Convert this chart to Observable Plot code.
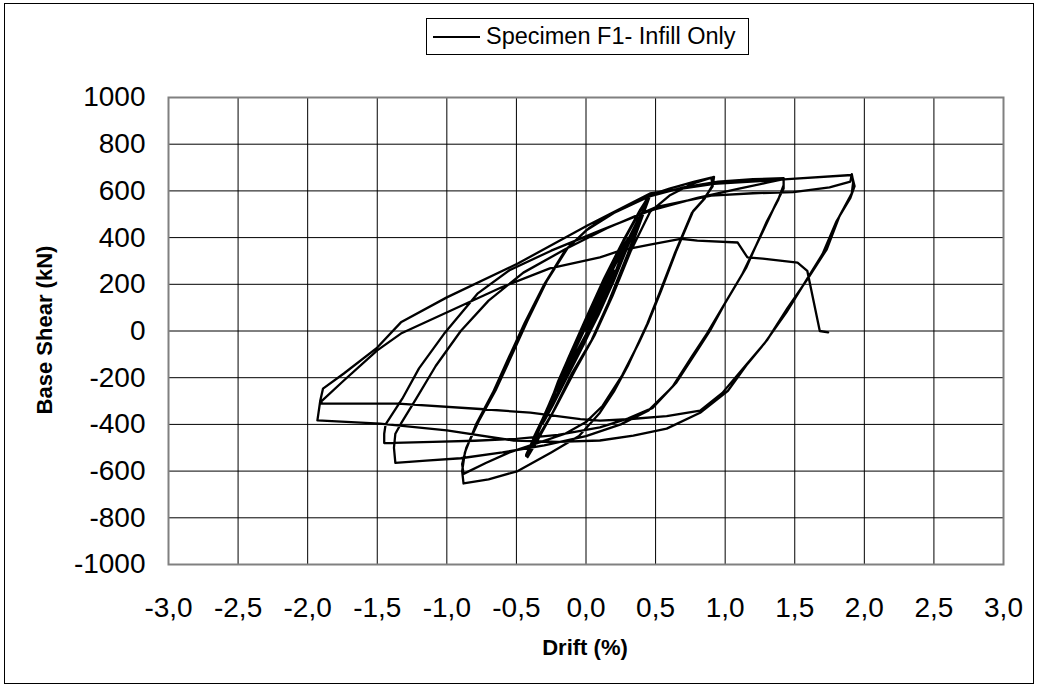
<!DOCTYPE html>
<html><head><meta charset="utf-8">
<script src="https://cdn.jsdelivr.net/npm/d3@7"></script>
<script src="https://cdn.jsdelivr.net/npm/@observablehq/plot@0.6"></script>
<style>
body{margin:0;background:#fff;}
#wrap{position:relative;width:1040px;height:690px;font-family:"Liberation Sans",Arial,sans-serif;color:#000;}
#border{position:absolute;left:4px;top:3px;width:1030px;height:681px;border:1px solid #000;box-sizing:border-box;}
#legend{position:absolute;left:426px;top:18px;width:323px;height:37px;border:1px solid #000;box-sizing:border-box;display:flex;align-items:center;font-size:23.5px;white-space:nowrap;}
#legend .sw{width:47px;height:2px;background:#000;margin-left:6px;margin-right:6px;flex:none;}
#chart{position:absolute;left:0;top:0;}
#chart svg text{font-size:28px;}
.title{position:absolute;font-weight:bold;font-size:22px;white-space:nowrap;}
#xtitle{left:585px;top:648px;transform:translate(-50%,-50%);}
#ytitle{left:45px;top:330px;transform:translate(-50%,-50%) rotate(-90deg);}
</style></head>
<body>
<div id="wrap"><div id="border"></div><div id="chart"></div>
<div id="legend"><span class="sw"></span><span>Specimen F1- Infill Only</span></div>
<div class="title" id="xtitle">Drift (%)</div>
<div class="title" id="ytitle">Base Shear (kN)</div>
</div>
<script>
// Tick values
const xTicks = [-3, -2.5, -2, -1.5, -1, -0.5, 0, 0.5, 1, 1.5, 2, 2.5, 3];
const yTicks = [-1000, -800, -600, -400, -200, 0, 200, 400, 600, 800, 1000];

// [drift %, base shear kN], in loading order
const smallCycles = [
[0,0],[0.06,70],[0.12,150],[0.2,255],
[0.15,195],[0.06,90],[-0.05,-40],[-0.13,-150],[-0.2,-250],
[-0.15,-190],[-0.06,-80],[0.05,40],[0.13,140],[0.2,260],
[0.14,190],[0.05,80],[-0.06,-50],[-0.14,-160],[-0.21,-255],
[-0.15,-195],[-0.06,-90],[0.05,30],[0.14,140],[0.21,250],[0.3,395],
[0.23,320],[0.12,190],[0.0,40],[-0.1,-90],[-0.2,-230],[-0.3,-385],
[-0.24,-320],[-0.13,-190],[-0.01,-50],[0.1,90],[0.2,230],[0.31,400],
[0.24,325],[0.13,200],[0.01,50],[-0.1,-80],[-0.2,-215],[-0.31,-395],
[-0.25,-330],[-0.14,-200],[-0.02,-60],[0.09,70],[0.2,215],[0.38,480],
[0.3,390],[0.18,250],[0.05,80],[-0.08,-80],[-0.22,-260],[-0.37,-450],
[-0.3,-380],[-0.18,-240],[-0.05,-90],[0.08,60],[0.22,250],[0.38,485],
[0.31,400],[0.19,260],[0.06,95],[-0.07,-70],[-0.21,-250],[-0.38,-460],
[-0.31,-390],[-0.19,-250],[-0.06,-100],[0.07,50],[0.21,240],[0.34,420],[0.46,585],
[0.39,520],[0.28,400],[0.15,240],[0.02,70],[-0.11,-100],[-0.26,-310],[-0.43,-530],
[-0.36,-470],[-0.24,-350],[-0.1,-180],[0.04,-40],[0.16,120],[0.3,330],[0.45,580],
[0.39,515],[0.28,395],[0.14,230],[0.01,60],[-0.12,-110],[-0.27,-320],[-0.43,-535],
[-0.35,-460],[-0.23,-340],[-0.09,-175],[0.05,-30],[0.18,140],[0.31,335],[0.46,580],
[0.38,505],[0.27,390],[0.13,225],[0.0,55],[-0.13,-120],[-0.27,-330],[-0.42,-540],
[-0.35,-470],[-0.22,-330],[-0.08,-170],[0.06,-20],[0.19,150],[0.32,340],[0.46,510],[0.6,580],[0.76,630],[0.92,660]
];
const cycles09 = [
[0.91,620],[0.84,560],[0.77,514],[0.65,345],[0.54,173],[0.45,40],[0.38,-50],[0.26,-190],[0.12,-320],[0.0,-390],[-0.15,-440],[-0.35,-480],[-0.55,-520],[-0.72,-565],[-0.88,-612],
[-0.89,-570],[-0.86,-500],[-0.77,-385],[-0.65,-255],[-0.54,-113],[-0.42,45],[-0.28,216],[-0.13,357],[0.02,440],[0.2,510],[0.4,570],[0.6,610],[0.78,640],[0.9,657],
[0.91,625],[0.85,565],[0.76,505],[0.64,335],[0.53,165],[0.44,30],[0.37,-60],[0.3,-150],[0.2,-260],[0.1,-350],[-0.05,-450],[-0.25,-520],[-0.49,-600],[-0.7,-635],[-0.88,-653],
[-0.89,-600],[-0.87,-520],[-0.79,-400],[-0.67,-265],[-0.56,-120],[-0.44,35],[-0.3,200],[-0.15,345],[0.0,430],[0.2,505],[0.45,575],[0.7,615],[0.95,640],[1.2,650],[1.42,655]
];
const cycles14 = [
[1.42,625],[1.38,560],[1.3,470],[1.15,270],[1.0,120],[0.89,0],[0.8,-83],[0.65,-220],[0.48,-329],[0.3,-375],[0.1,-413],[-0.2,-445],[-0.5,-462],[-0.8,-470],[-1.1,-475],[-1.45,-480],
[-1.45,-440],[-1.44,-400],[-1.32,-290],[-1.2,-160],[-1.02,-12],[-0.78,160],[-0.55,260],[-0.25,344],[0.1,430],[0.46,515],[0.8,570],[1.1,610],[1.3,635],[1.42,650],
[1.42,610],[1.36,540],[1.25,400],[1.12,240],[0.98,100],[0.87,-10],[0.76,-110],[0.62,-240],[0.45,-340],[0.25,-400],[0.0,-450],[-0.3,-490],[-0.6,-520],[-0.9,-545],[-1.15,-555],[-1.37,-565],
[-1.38,-500],[-1.37,-440],[-1.33,-397],[-1.22,-290],[-1.08,-150],[-0.9,0],[-0.7,130],[-0.45,250],[-0.15,350],[0.15,440],[0.5,530],[0.9,580],[1.2,590],[1.49,595],[1.75,615],[1.9,640],[1.91,672]
];
const cycles19 = [
[1.92,640],[1.91,590],[1.82,490],[1.73,350],[1.6,230],[1.45,100],[1.3,-40],[1.16,-141],[1.02,-256],[0.82,-350],[0.58,-418],[0.34,-448],[0.1,-469],[-0.2,-475],[-0.52,-469],[-1.0,-426],[-1.48,-397],[-1.93,-383],
[-1.91,-300],[-1.89,-247],[-1.74,-182],[-1.5,-71],[-1.33,37],[-1.0,144],[-0.49,289],[0.01,452],[0.46,589],[0.92,630],[1.45,650],[1.91,668],
[1.93,620],[1.9,570],[1.8,470],[1.7,330],[1.58,215],[1.44,80],[1.28,-55],[1.13,-160],[0.98,-265],[0.82,-341],[0.58,-365],[0.3,-378],[0.1,-384],[-0.04,-377],[-0.4,-350],[-0.76,-334],[-1.35,-311],[-1.9,-311]
];
const finalPush = [
[-1.9,-300],[-1.74,-212],[-1.5,-83],[-1.33,-11],[-0.97,88],[-0.61,186],[-0.26,268],[0.1,315],[0.25,345],[0.46,370],[0.68,395],[0.8,387],[1.09,379],[1.16,315],[1.27,310],[1.52,293],[1.59,258],[1.68,0],[1.74,-6]
];

const curve = [...smallCycles, ...cycles09, ...cycles14, ...cycles19, ...finalPush]
  .map(([drift, shear]) => ({drift, shear}));

const fmtX = d => d.toFixed(1).replace(".", ",");

const chart = Plot.plot({
  width: 1040, height: 690,
  marginLeft: 168, marginRight: 37, marginTop: 97, marginBottom: 126,
  style: {fontFamily: '"Liberation Sans", Arial, sans-serif', fontSize: "28px", color: "#000", background: "transparent", overflow: "visible"},
  x: {domain: [-3, 3]},
  y: {domain: [-1000, 1000]},
  marks: [
    Plot.gridX(xTicks, {stroke: "#000", strokeOpacity: 1, strokeWidth: 1}),
    Plot.gridY(yTicks, {stroke: "#000", strokeOpacity: 1, strokeWidth: 1}),
    Plot.line(curve, {x: "drift", y: "shear", stroke: "#000", strokeWidth: 2.3, strokeLinejoin: "round"}),
    Plot.frame({stroke: "#808080", strokeWidth: 2}),
    Plot.axisX(xTicks, {tickFormat: fmtX, tickSize: 0, tickPadding: 33, label: null}),
    Plot.axisY(yTicks, {tickFormat: d => String(d), tickSize: 0, tickPadding: 23, label: null})
  ]
});
document.getElementById("chart").appendChild(chart);
</script>
</body></html>
